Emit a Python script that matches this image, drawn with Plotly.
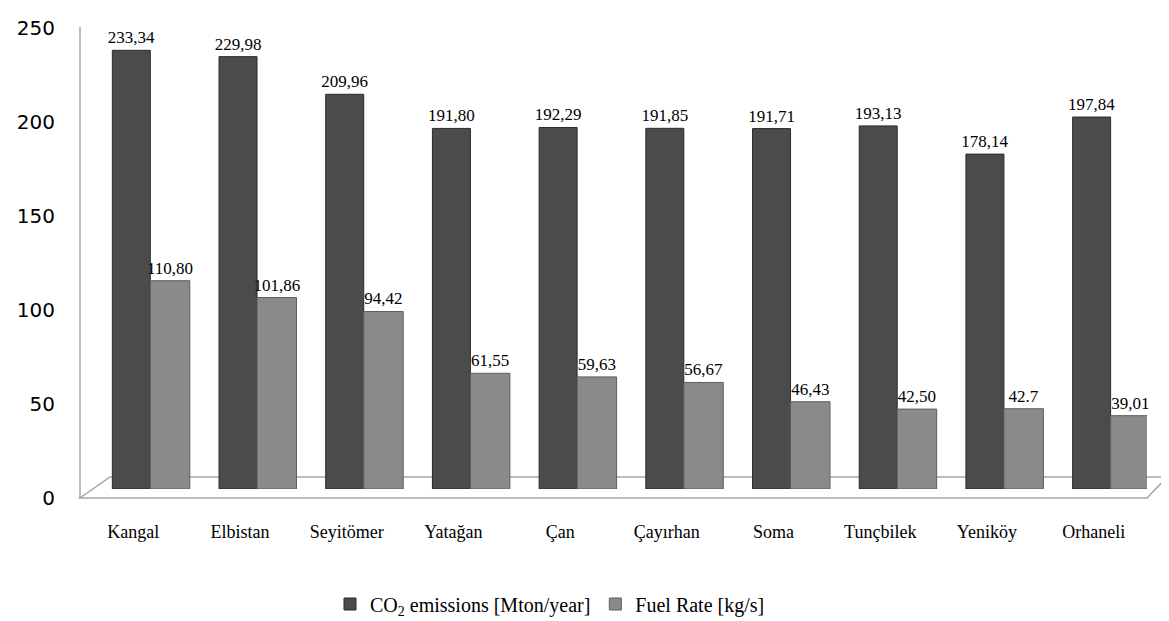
import plotly.graph_objects as go

plants = ["Kangal", "Elbistan", "Seyitömer", "Yatağan", "Çan",
          "Çayırhan", "Soma", "Tunçbilek", "Yeniköy", "Orhaneli"]
co2 = [233.34, 229.98, 209.96, 191.80, 192.29, 191.85, 191.71, 193.13, 178.14, 197.84]
co2_labels = ["233,34", "229,98", "209,96", "191,80", "192,29",
              "191,85", "191,71", "193,13", "178,14", "197,84"]
fuel = [110.80, 101.86, 94.42, 61.55, 59.63, 56.67, 46.43, 42.50, 42.7, 39.01]
fuel_labels = ["110,80", "101,86", "94,42", "61,55", "59,63",
               "56,67", "46,43", "42,50", "42.7", "39,01"]
y_ticks = [0, 50, 100, 150, 200, 250]

OFF = 8
W, H = 1169 - OFF, 621 - OFF
L, R = 80 - OFF, 1147 - OFF
# bars sit mid-depth in the 3D box: their scale is lifted ~9px above the wall scale
T, B = 19 - OFF, 489 - OFF
pw, ph = R - L, B - T

def px(x):
    return (x - OFF - L) / pw

def py(y):
    return (B - (y - OFF)) / ph

serif = "Liberation Serif, Times New Roman, serif"

fig = go.Figure()
fig.add_trace(go.Bar(
    x=plants, y=co2, name="CO<sub>2</sub> emissions [Mton/year]",
    text=co2_labels, textposition="outside", cliponaxis=False,
    constraintext="none",
    offset=-0.197, width=0.356,
    marker=dict(color="#4b4b4b", line=dict(color="#2b2b2b", width=1)),
    textfont=dict(family=serif, size=17, color="black"),
))
fig.add_trace(go.Bar(
    x=plants, y=fuel, name="Fuel Rate [kg/s]",
    text=fuel_labels, textposition="outside", cliponaxis=False,
    constraintext="none",
    offset=0.159, width=0.37,
    marker=dict(color="#8a8a8a", line=dict(color="#5e5e5e", width=1)),
    textfont=dict(family=serif, size=17, color="black"),
))

floor_path = (f"M {px(80)},{py(498)} L {px(1147)},{py(498)} "
              f"L {px(1167)},{py(477)} L {px(110)},{py(477)} Z")

fig.update_layout(
    width=W, height=H,
    font=dict(family=serif, color="black"),
    margin=dict(l=L, r=W - R, t=T, b=H - B, autoexpand=False),
    paper_bgcolor="white", plot_bgcolor="white",
    barmode="group",
    showlegend=True,
    legend=dict(orientation="h", x=px(550), xanchor="center",
                y=py(604), yanchor="middle",
                font=dict(family=serif, size=20, color="black"),
                itemwidth=30, tracegroupgap=0),
    xaxis=dict(range=[-0.5, 9.5], showgrid=False, showline=False, zeroline=False,
               ticks="", ticklabelstandoff=30, automargin=False,
               tickfont=dict(family=serif, size=18, color="black")),
    yaxis=dict(range=[0, 250], tickvals=y_ticks, showgrid=False, zeroline=False,
               showline=False, ticks="", ticklabelshift=9,
               ticklabelstandoff=24, automargin=False,
               tickfont=dict(family="DejaVu Sans", size=20, color="black")),
    shapes=[
        dict(type="path", path=floor_path, xref="paper", yref="paper",
             line=dict(color="#a6a6a6", width=1.5), fillcolor="rgba(0,0,0,0)",
             layer="below"),
        dict(type="line", xref="paper", yref="paper",
             x0=px(80), x1=px(80), y0=py(498), y1=py(27),
             line=dict(color="#a6a6a6", width=1.5), layer="below"),
    ],
)

fig.write_html("out.html")
